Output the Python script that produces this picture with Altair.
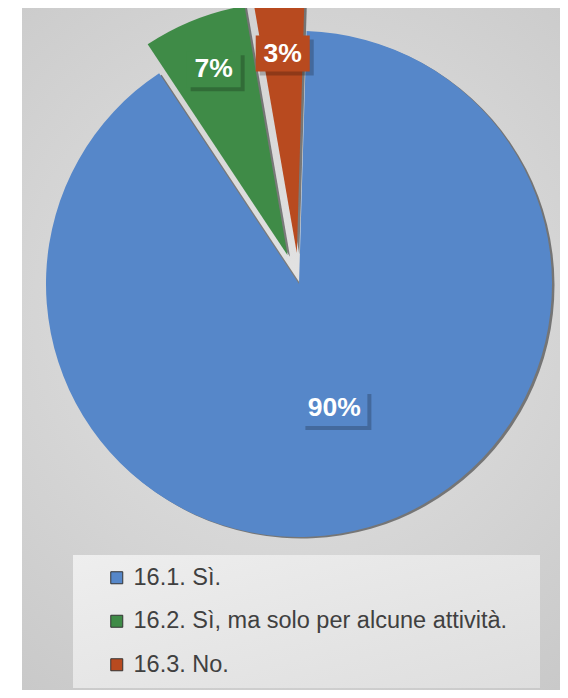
import altair as alt
import pandas as pd

# ---- data ----
categories = ["16.1. Sì.", "16.2. Sì, ma solo per alcune attività.", "16.3. No."]
values = [90.2, 6.6, 3.2]
colors = ["#5687C9", "#3F8B47", "#B84A1F"]

df = pd.DataFrame({"category": categories, "value": values, "order": list(range(len(categories)))})

# ---- layout constants ----
W, H = 552, 682
CX, CY = 291, 276
R = 253
ROT = 0.03
EXPLODE = 31

theta_scale = alt.Scale(domain=[0, 100], range=[ROT, ROT + 6.283185307])
color_scale = alt.Scale(domain=categories, range=colors)

base = (
    alt.Chart(df)
    .transform_window(cum="sum(value)", sort=[alt.SortField("order")], frame=[None, 0])
    .transform_calculate(start="datum.cum - datum.value", end="datum.cum")
    .transform_calculate(mid=f"(datum.start + datum.end) / 2 * 2 * PI / 100 + {ROT}")
    .transform_calculate(ex=f"datum.value > 50 ? 0 : {EXPLODE}", lr="datum.value > 50 ? 129 : 200")
    .transform_calculate(cx=f"{CX} + datum.ex * sin(datum.mid)", cy=f"{CY} - datum.ex * cos(datum.mid)")
    .transform_calculate(sx="datum.cx + 2.5", sy="datum.cy + 1.5")
    .transform_calculate(
        lx="datum.cx + datum.lr * sin(datum.mid)",
        ly="datum.cy - datum.lr * cos(datum.mid)",
        label="format(round(datum.value), 'd') + '%'",
    )
    .transform_calculate(hw="length(datum.label) * 6 + 15")
    .transform_calculate(
        bx1="datum.lx - datum.hw", bx2="datum.lx + datum.hw",
        by1="datum.ly - 18", by2="datum.ly + 18",
        sbx1="datum.lx - datum.hw + 4", sbx2="datum.lx + datum.hw + 4",
        sby1="datum.ly - 14", sby2="datum.ly + 22",
    )
)

one = base.transform_filter("datum.order == 0")

bg = one.mark_rect(
    color=alt.RadialGradient(
        gradient="radial",
        stops=[alt.GradientStop(color="#e4e4e4", offset=0), alt.GradientStop(color="#c6c6c6", offset=1)],
        x1=0.5, y1=0.45, r1=0, x2=0.5, y2=0.45, r2=0.75,
    )
).encode(x=alt.value(14), x2=alt.value(W), y=alt.value(0), y2=alt.value(H))

legend_box = one.mark_rect(
    color=alt.LinearGradient(
        gradient="linear",
        stops=[alt.GradientStop(color="#eeeeee", offset=0), alt.GradientStop(color="#dedede", offset=1)],
        x1=0, y1=0, x2=1, y2=1,
    )
).encode(x=alt.value(65), x2=alt.value(532), y=alt.value(547), y2=alt.value(680))

arc_shadow = base.mark_arc(color="#000000", opacity=0.45, radius=R).encode(
    x=alt.X("sx:Q", scale=None, axis=None),
    y=alt.Y("sy:Q", scale=None, axis=None),
    theta=alt.Theta("start:Q", scale=theta_scale, stack=None),
    theta2=alt.Theta2("end:Q"),
)

arcs = base.mark_arc(radius=R).encode(
    x=alt.X("cx:Q", scale=None, axis=None),
    y=alt.Y("cy:Q", scale=None, axis=None),
    theta=alt.Theta("start:Q", scale=theta_scale, stack=None),
    theta2=alt.Theta2("end:Q"),
    color=alt.Color(
        "category:N",
        scale=color_scale,
        legend=alt.Legend(
            title=None,
            orient="none",
            legendX=97,
            legendY=558,
            symbolType="square",
            symbolSize=144,
            symbolStrokeColor="#333333",
            symbolStrokeWidth=1,
            labelFont="Liberation Sans",
            labelFontSize=23.5,
            labelColor="#404040",
            labelLimit=600,
            labelOffset=5,
            rowPadding=18.5,
            padding=0,
        ),
    ),
)

label_shadow = base.mark_rect(color="#000000", opacity=0.22).encode(
    x=alt.X("sbx1:Q", scale=None, axis=None), x2="sbx2:Q",
    y=alt.Y("sby1:Q", scale=None, axis=None), y2="sby2:Q",
)

label_box = base.mark_rect().encode(
    x=alt.X("bx1:Q", scale=None, axis=None), x2="bx2:Q",
    y=alt.Y("by1:Q", scale=None, axis=None), y2="by2:Q",
    color=alt.Color("category:N", scale=color_scale, legend=None),
)

labels = base.mark_text(
    font="Liberation Sans", fontWeight="bold", fontSize=26.5, color="white",
    align="center", baseline="middle",
).encode(
    x=alt.X("lx:Q", scale=None, axis=None),
    y=alt.Y("ly:Q", scale=None, axis=None),
    text="label:N",
)

chart = (
    alt.layer(bg, legend_box, arc_shadow, arcs, label_shadow, label_box, labels)
    .properties(width=W, height=H, autosize="none", padding=0)
    .configure_view(stroke=None)
)

chart.save("out.html", embed_options={"renderer": "svg", "actions": False})
